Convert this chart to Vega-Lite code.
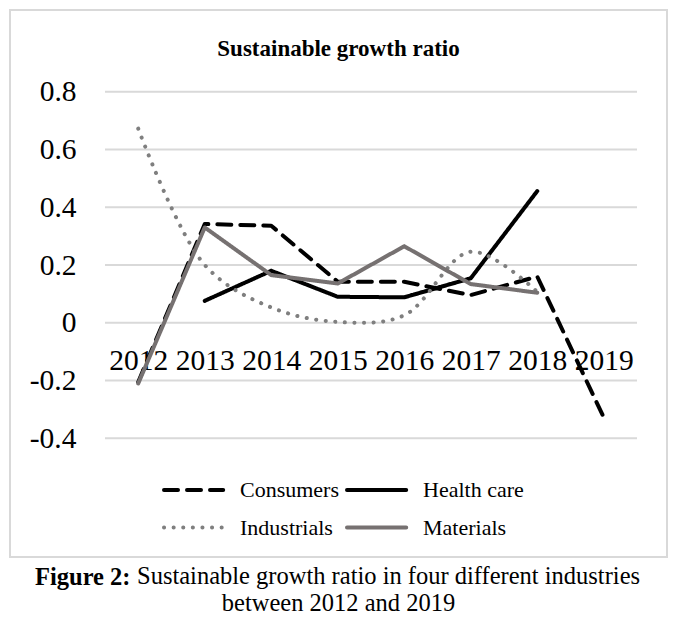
{
  "$schema": "https://vega.github.io/schema/vega-lite/v6.json",
  "padding": {"left": 9, "top": 9, "right": 5, "bottom": 5},
  "background": "white",
  "config": {
    "font": "Liberation Serif",
    "view": {"stroke": "#d9d9d9", "strokeWidth": 2},
    "concat": {"spacing": 0},
    "title": {"color": "black", "font": "Liberation Serif"}
  },
  "datasets": {
    "series": [
      {"series": "Consumers", "year": 2012, "value": -0.205},
      {"series": "Consumers", "year": 2013, "value": 0.342},
      {"series": "Consumers", "year": 2014, "value": 0.336},
      {"series": "Consumers", "year": 2015, "value": 0.142},
      {"series": "Consumers", "year": 2016, "value": 0.142},
      {"series": "Consumers", "year": 2017, "value": 0.096},
      {"series": "Consumers", "year": 2018, "value": 0.16},
      {"series": "Consumers", "year": 2019, "value": -0.328},
      {"series": "Health care", "year": 2013, "value": 0.076},
      {"series": "Health care", "year": 2014, "value": 0.18},
      {"series": "Health care", "year": 2015, "value": 0.09},
      {"series": "Health care", "year": 2016, "value": 0.088},
      {"series": "Health care", "year": 2017, "value": 0.154},
      {"series": "Health care", "year": 2018, "value": 0.456},
      {"series": "Industrials", "year": 2012, "value": 0.672},
      {"series": "Industrials", "year": 2013, "value": 0.2},
      {"series": "Industrials", "year": 2014, "value": 0.053},
      {"series": "Industrials", "year": 2015, "value": 0.003},
      {"series": "Industrials", "year": 2016, "value": 0.026},
      {"series": "Industrials", "year": 2017, "value": 0.246},
      {"series": "Industrials", "year": 2018, "value": 0.107},
      {"series": "Materials", "year": 2012, "value": -0.21},
      {"series": "Materials", "year": 2013, "value": 0.33},
      {"series": "Materials", "year": 2014, "value": 0.165},
      {"series": "Materials", "year": 2015, "value": 0.136},
      {"series": "Materials", "year": 2016, "value": 0.265},
      {"series": "Materials", "year": 2017, "value": 0.134},
      {"series": "Materials", "year": 2018, "value": 0.104}
    ],
    "grid": [
      {"v": -0.4}, {"v": -0.2}, {"v": 0}, {"v": 0.2}, {"v": 0.4}, {"v": 0.6}, {"v": 0.8}
    ]
  },
  "title": {
    "text": "between 2012 and 2019",
    "orient": "bottom",
    "anchor": "middle",
    "frame": "bounds",
    "fontSize": 24.5,
    "fontWeight": "normal",
    "baseline": "top",
    "offset": 2
  },
  "vconcat": [
    {
      "title": {
        "text": "Sustainable growth ratio in four different industries",
        "orient": "bottom",
        "anchor": "start",
        "frame": "bounds",
        "fontSize": 24.5,
        "fontWeight": "normal",
        "baseline": "top",
        "offset": 0,
        "dx": 128,
        "dy": -24.5
      },
      "vconcat": [
        {
          "title": {
            "text": "Figure 2:",
            "orient": "bottom",
            "anchor": "start",
            "frame": "bounds",
            "fontSize": 24.5,
            "fontWeight": "bold",
            "baseline": "top",
            "offset": 8,
            "dx": 26
          },
          "vconcat": [
            {
              "width": 657,
              "height": 547,
              "title": {
                "text": "Sustainable growth ratio",
                "orient": "top",
                "anchor": "middle",
                "frame": "group",
                "fontSize": 23,
                "fontWeight": "bold",
                "baseline": "alphabetic",
                "offset": -68.7
              },
              "layer": [
                {
                  "data": {"name": "grid"},
                  "mark": {"type": "rule", "color": "#d9d9d9", "strokeWidth": 2},
                  "encoding": {
                    "y": {"field": "v", "type": "quantitative"},
                    "x": {"datum": 2011.5},
                    "x2": {"datum": 2019.5}
                  }
                },
                {
                  "data": {"name": "series"},
                  "transform": [{"filter": "datum.series === 'Consumers' || datum.series === 'Health care'"}],
                  "mark": {"type": "line", "strokeWidth": 4, "strokeCap": "round", "strokeJoin": "round"},
                  "encoding": {
                    "x": {
                      "field": "year", "type": "quantitative",
                      "scale": {"domain": [2010.0714, 2019.951], "nice": false, "zero": false},
                      "axis": {"title": null, "values": [2012, 2013, 2014, 2015, 2016, 2017, 2018, 2019], "format": "d", "offset": -234.3, "labelPadding": 47, "labelBaseline": "alphabetic", "ticks": false, "tickSize": 0, "domain": false, "grid": false, "labelFontSize": 29.5, "labelFont": "Liberation Serif", "labelOverlap": false, "labelFlush": false, "labelColor": "black"}
                    },
                    "y": {
                      "field": "value", "type": "quantitative",
                      "scale": {"domain": [-0.811, 1.0829], "nice": false, "zero": false},
                      "axis": {"title": null, "values": [-0.4, -0.2, 0, 0.2, 0.4, 0.6, 0.8], "labelExpr": "datum.value === 0 ? '0' : (datum.value < 0 ? '-' + format(-datum.value, '.1f') : format(datum.value, '.1f'))", "labelPadding": -66, "tickSize": 0, "ticks": false, "domain": false, "grid": false, "labelFontSize": 29.5, "labelFont": "Liberation Serif", "labelColor": "black", "labelAlign": "right", "labelBaseline": "middle"}
                    },
                    "color": {
                      "field": "series", "type": "nominal",
                      "scale": {"domain": ["Consumers", "Health care", "Industrials", "Materials"], "range": ["#000000", "#000000", "#7f7f7f", "#767171"]},
                      "legend": {"title": null, "orient": "none", "legendX": 165.6, "legendY": 462, "direction": "horizontal", "columns": 2, "symbolType": "M-1.85,0H1.85", "symbolSize": 1024, "symbolStrokeWidth": 4, "labelFontSize": 22, "labelFont": "Liberation Serif", "labelColor": "black", "labelOffset": 28.4, "columnPadding": -1, "rowPadding": 8.5, "padding": 0, "labelLimit": 0, "encode": {"symbols": {"update": {"strokeCap": {"value": "round"}}}}}
                    },
                    "strokeDash": {
                      "field": "series", "type": "nominal",
                      "scale": {"domain": ["Consumers", "Health care", "Industrials", "Materials"], "range": [[14, 9], [1, 0], [0.1, 9.5], [1, 0]]},
                      "legend": {"title": null, "orient": "none", "legendX": 165.6, "legendY": 462, "direction": "horizontal", "columns": 2, "symbolType": "M-1.85,0H1.85", "symbolSize": 1024, "symbolStrokeWidth": 4, "labelFontSize": 22, "labelFont": "Liberation Serif", "labelColor": "black", "labelOffset": 28.4, "columnPadding": -1, "rowPadding": 8.5, "padding": 0, "labelLimit": 0, "encode": {"symbols": {"update": {"strokeCap": {"value": "round"}}}}}
                    }
                  }
                },
                {
                  "data": {"name": "series"},
                  "transform": [{"filter": "datum.series === 'Industrials'"}],
                  "mark": {"type": "line", "strokeWidth": 4, "strokeCap": "round", "strokeJoin": "round", "interpolate": "catmull-rom"},
                  "encoding": {
                    "x": {"field": "year", "type": "quantitative"},
                    "y": {"field": "value", "type": "quantitative"},
                    "color": {"field": "series", "type": "nominal"},
                    "strokeDash": {"field": "series", "type": "nominal"}
                  }
                },
                {
                  "data": {"name": "series"},
                  "transform": [{"filter": "datum.series === 'Materials'"}],
                  "mark": {"type": "line", "strokeWidth": 4, "strokeCap": "round", "strokeJoin": "round"},
                  "encoding": {
                    "x": {"field": "year", "type": "quantitative"},
                    "y": {"field": "value", "type": "quantitative"},
                    "color": {"field": "series", "type": "nominal"},
                    "strokeDash": {"field": "series", "type": "nominal"}
                  }
                }
              ]
            }
          ]
        }
      ]
    }
  ]
}
